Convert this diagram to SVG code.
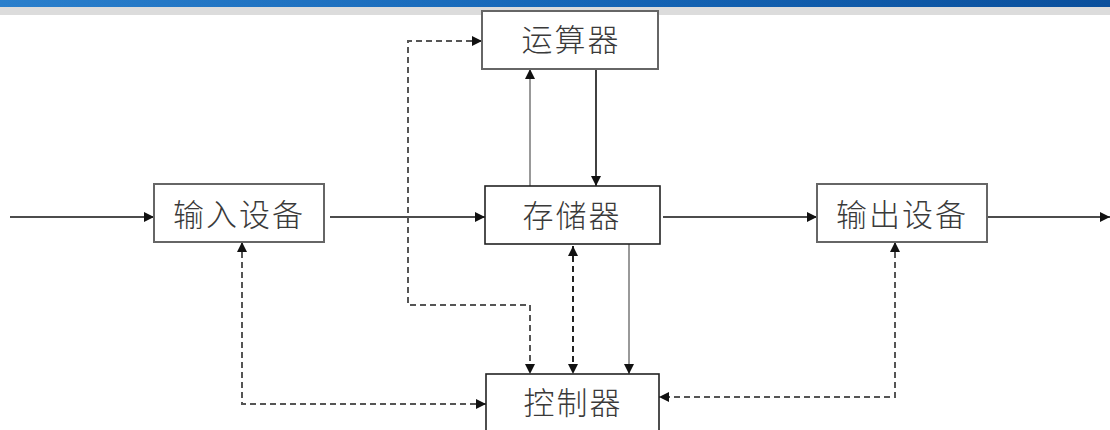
<svg xmlns="http://www.w3.org/2000/svg" width="1110" height="430" viewBox="0 0 1110 430">
<style>
.box{fill:#fff;stroke:#222;stroke-width:1.6}
.boxg{fill:#fff;stroke:#666;stroke-width:2}
.lbl{font-family:"Noto Sans CJK SC","Noto Sans",sans-serif;font-size:31px;font-weight:300;fill:#3a3a3a;text-anchor:middle;dominant-baseline:central;letter-spacing:2px}
.ln{fill:none;stroke:#111;stroke-width:1.6}
.lng{fill:none;stroke:#999;stroke-width:2}
.dash{fill:none;stroke:#222;stroke-width:2;stroke-dasharray:6,4}
.dashg{fill:none;stroke:#555;stroke-width:2;stroke-dasharray:6,4}
</style>
<defs>
<linearGradient id="bar" x1="0" y1="0" x2="1" y2="0">
<stop offset="0" stop-color="#2a7fcc"/>
<stop offset="0.5" stop-color="#1667b8"/>
<stop offset="1" stop-color="#0a4f9c"/>
</linearGradient>
<marker id="ah" viewBox="0 0 10 10" refX="10" refY="5" markerWidth="10" markerHeight="10" markerUnits="userSpaceOnUse" orient="auto-start-reverse">
<path d="M0,0 L10,5 L0,10 z" fill="#111"/>
</marker>
</defs>
<rect x="0" y="0" width="1110" height="430" fill="#fff"/>
<rect x="0" y="0" width="1110" height="7" fill="url(#bar)"/>
<rect x="0" y="7" width="1110" height="8" fill="#dcdcdc"/>

<g id="connectors">
<path class="ln" d="M10,217 H154" marker-end="url(#ah)"/>
<path class="ln" d="M330,217 H485" marker-end="url(#ah)"/>
<path class="ln" d="M663,217 H817" marker-end="url(#ah)"/>
<path class="ln" d="M987,217 H1110" marker-end="url(#ah)"/>
<path class="lng" d="M530,186 V69" marker-end="url(#ah)"/>
<path class="ln" d="M596,69 V186" marker-end="url(#ah)"/>
<path class="lng" d="M629,244 V374" marker-end="url(#ah)"/>
<path class="dash" d="M573,246 V374" marker-start="url(#ah)" marker-end="url(#ah)"/>
<path class="dashg" d="M482,41 H408 V305 H530 V374" marker-start="url(#ah)" marker-end="url(#ah)"/>
<path class="dashg" d="M242,242 V404 H486" marker-start="url(#ah)" marker-end="url(#ah)"/>
<path class="dashg" d="M895,242 V397 H659" marker-start="url(#ah)" marker-end="url(#ah)"/>
</g>

<g id="alu">
<rect class="boxg" x="482" y="11" width="176" height="58"/>
<text class="lbl" x="571" y="37">运算器</text>
</g>
<g id="memory">
<rect class="box" x="485" y="186" width="175" height="58"/>
<text class="lbl" x="572" y="213">存储器</text>
</g>
<g id="input">
<rect class="boxg" x="154" y="184" width="170" height="58"/>
<text class="lbl" x="239" y="212">输入设备</text>
</g>
<g id="output">
<rect class="boxg" x="817" y="184" width="170" height="58"/>
<text class="lbl" x="902" y="212">输出设备</text>
</g>
<g id="control">
<rect class="box" x="486" y="374" width="173" height="70"/>
<text class="lbl" x="573" y="400">控制器</text>
</g>
</svg>
